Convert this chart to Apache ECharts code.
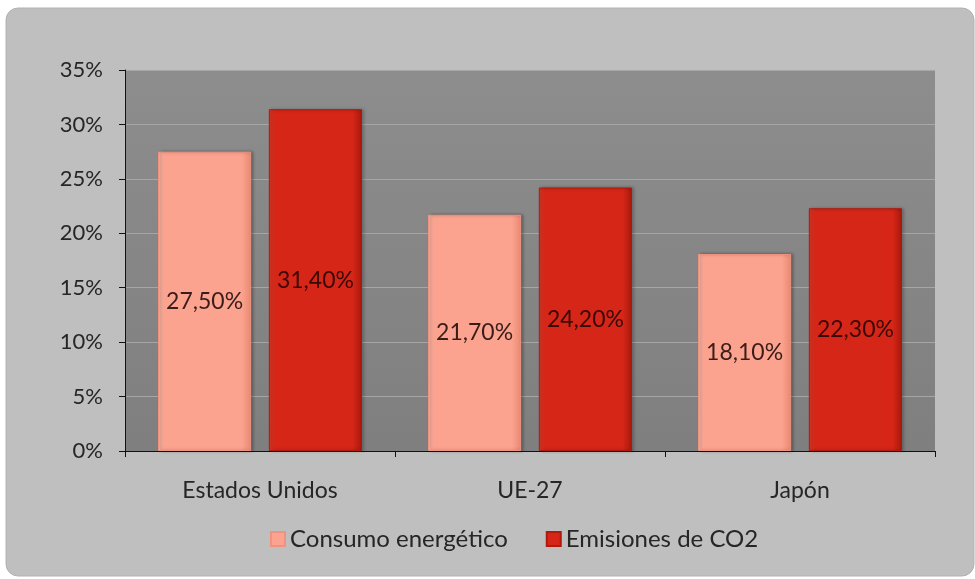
<!DOCTYPE html>
<html>
<head>
<meta charset="utf-8">
<script src="https://cdn.jsdelivr.net/npm/echarts@6/dist/echarts.min.js"></script>
<style>
  html, body { margin: 0; padding: 0; background: #ffffff; }
  #chart { width: 975px; height: 579px; }
</style>
</head>
<body>
<div id="chart"></div>
<script>
// datos del gráfico
const categories = ['Estados Unidos', 'UE-27', 'Japón'];
const consumo = [27.5, 21.7, 18.1];
const emisiones = [31.4, 24.2, 22.3];
const seriesNames = ['Consumo energético', 'Emisiones de CO2'];

const fontFam = 'Lato, "Open Sans", sans-serif';

// degradado horizontal para dar un poco de relieve a las barras
function barFill(edge, mid, dark) {
  return new echarts.graphic.LinearGradient(0, 0, 1, 0, [
    { offset: 0, color: edge },
    { offset: 0.07, color: mid },
    { offset: 0.9, color: mid },
    { offset: 1, color: dark }
  ]);
}

const fmt = p => p.value.toFixed(2).replace('.', ',') + '%';

const chart = echarts.init(document.getElementById('chart'));

const option = {
  backgroundColor: '#ffffff',
  textStyle: { fontFamily: fontFam },
  graphic: [
    {
      type: 'rect',
      z: -10,
      shape: { x: 6, y: 8, width: 968, height: 568, r: 12 },
      style: { fill: '#bfbfbf', stroke: '#b2b2b2', lineWidth: 1 }
    }
  ],
  grid: {
    left: 125,
    right: 40,
    top: 70,
    bottom: 128,
    show: true,
    borderWidth: 0,
    backgroundColor: new echarts.graphic.LinearGradient(0, 0, 0, 1, [
      { offset: 0, color: '#8d8d8d' },
      { offset: 1, color: '#7f7f7f' }
    ])
  },
  legend: {
    top: 522,
    left: 265,
    itemWidth: 14,
    itemHeight: 14,
    itemGap: 38,
    icon: 'rect',
    textStyle: { fontSize: 24, color: '#262626', fontFamily: fontFam },
    data: seriesNames
  },
  xAxis: {
    type: 'category',
    data: categories,
    axisLine: { lineStyle: { color: '#111', width: 1 } },
    axisTick: { show: true, length: 6, lineStyle: { color: '#111' } },
    axisLabel: { fontSize: 23, color: '#262626', margin: 28, fontFamily: fontFam }
  },
  yAxis: {
    type: 'value',
    min: 0,
    max: 35,
    interval: 5,
    axisLine: { show: true, lineStyle: { color: '#111', width: 1 } },
    axisTick: { show: true, length: 6, lineStyle: { color: '#111' } },
    axisLabel: { fontSize: 22, color: '#262626', margin: 22, formatter: '{value}%', fontFamily: fontFam },
    splitLine: { lineStyle: { color: '#a6a6a6', width: 1 } }
  },
  series: [
    {
      name: seriesNames[0],
      type: 'bar',
      data: consumo,
      barWidth: '34.5%',
      barGap: '19%',
      itemStyle: {
        color: barFill('#f6b3a2', '#fba38f', '#e98872'),
        borderColor: '#ef9380',
        borderWidth: 1,
        shadowColor: 'rgba(0,0,0,0.3)',
        shadowBlur: 3,
        shadowOffsetX: 2
      },
      label: {
        show: true,
        position: 'inside',
        formatter: fmt,
        fontSize: 23,
        color: '#3a1c1a',
        fontFamily: fontFam
      }
    },
    {
      name: seriesNames[1],
      type: 'bar',
      data: emisiones,
      barWidth: '34.5%',
      itemStyle: {
        color: barFill('#dd3a28', '#d52617', '#a8180c'),
        borderColor: '#b01a0e',
        borderWidth: 1,
        shadowColor: 'rgba(0,0,0,0.3)',
        shadowBlur: 3,
        shadowOffsetX: 2
      },
      label: {
        show: true,
        position: 'inside',
        formatter: fmt,
        fontSize: 23,
        color: '#3a0806',
        fontFamily: fontFam
      }
    }
  ]
};

option && chart.setOption(option);
</script>
</body>
</html>
